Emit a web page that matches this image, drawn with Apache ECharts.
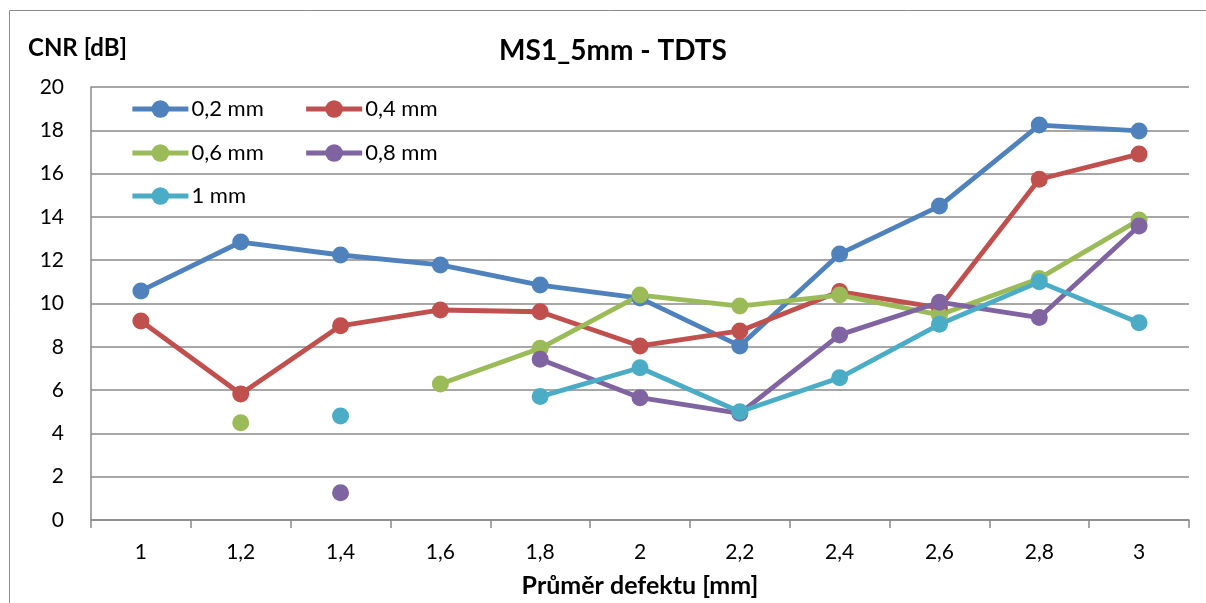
<!DOCTYPE html>
<html>
<head>
<meta charset="utf-8">
<script src="https://cdn.jsdelivr.net/npm/echarts@6/dist/echarts.min.js"></script>
<style>
  html, body { margin: 0; padding: 0; background: #fff; overflow: hidden; }
  #chart { width: 1206px; height: 603px; }
</style>
</head>
<body>
<div id="chart"></div>
<script>
// Defect diameters (mm) on the x axis
const categories = ['1', '1,2', '1,4', '1,6', '1,8', '2', '2,2', '2,4', '2,6', '2,8', '3'];

// CNR [dB] per hole depth; null = no measurement
const d02 = [10.58, 12.84, 12.24, 11.78, 10.85, 10.25, 8.04, 12.29, 14.5, 18.24, 17.97];
const d04 = [9.19, 5.82, 8.97, 9.70, 9.62, 8.04, 8.73, 10.55, 9.8, 15.74, 16.9];
const d06 = [null, 4.49, null, 6.28, 7.93, 10.39, 9.88, 10.39, 9.47, 11.16, 13.86];
const d08 = [null, null, 1.26, null, 7.42, 5.65, 4.93, 8.55, 10.06, 9.35, 13.58];
const d10 = [null, null, 4.80, null, 5.70, 7.03, 5.0, 6.57, 9.04, 11.0, 9.11];

const seriesNames = ['0,2 mm', '0,4 mm', '0,6 mm', '0,8 mm', '1 mm'];
const seriesData = [d02, d04, d06, d08, d10];
const colors = ['#4F81BD', '#C0504D', '#9BBB59', '#8064A2', '#4BACC6'];

const FONT = 'Lato, "Open Sans", sans-serif';
const GRID_COLOR = '#8a8a8a';
const LINE_W = 4.8;

const chart = echarts.init(document.getElementById('chart'), null, { renderer: 'canvas' });

// One legend per row so the two columns line up
function legendRow(names, top) {
  return {
    data: names,
    left: 130,
    top: top,
    padding: 0,
    orient: 'horizontal',
    itemWidth: 56,
    itemHeight: 22,
    itemGap: 40,
    lineStyle: { width: 'inherit' },
    textStyle: { fontFamily: FONT, fontSize: 22, color: '#000', padding: [0, 0, 0, -2] }
  };
}

chart.setOption({
  animation: false,
  color: colors,
  graphic: [
    {
      type: 'rect',
      shape: { x: 9.5, y: 10.5, width: 1300, height: 700 },
      style: { fill: 'none', stroke: '#8c8c8c', lineWidth: 1 },
      silent: true
    },
    {
      type: 'text',
      x: 613,
      y: 51,
      style: {
        text: 'MS1_5mm - TDTS', fontFamily: FONT, fontSize: 28, fontWeight: 'bold',
        fill: '#000', align: 'center', verticalAlign: 'middle'
      }
    },
    {
      type: 'text',
      x: 28,
      y: 48,
      style: {
        text: 'CNR [dB]', fontFamily: FONT, fontSize: 24, fontWeight: 'bold',
        fill: '#000', align: 'left', verticalAlign: 'middle'
      }
    }
  ],
  legend: [
    legendRow(['0,2 mm', '0,4 mm'], 98),
    legendRow(['0,6 mm', '0,8 mm'], 142),
    legendRow(['1 mm'], 185)
  ],
  grid: { left: 91, right: 17, top: 87, bottom: 83, outerBoundsMode: 'none' },
  xAxis: {
    type: 'category',
    data: categories,
    boundaryGap: true,
    name: 'Průměr defektu [mm]',
    nameLocation: 'middle',
    nameGap: 53,
    nameTextStyle: { fontFamily: FONT, fontSize: 25, fontWeight: 'bold', color: '#000' },
    axisLine: { lineStyle: { color: GRID_COLOR, width: 1.5 } },
    axisTick: { show: true, alignWithLabel: false, length: 8, lineStyle: { color: GRID_COLOR, width: 1.5 } },
    axisLabel: { fontFamily: FONT, fontSize: 21, color: '#000', margin: 22 },
    splitLine: { show: false }
  },
  yAxis: {
    type: 'value',
    min: 0,
    max: 20,
    interval: 2,
    axisLine: { show: true, lineStyle: { color: GRID_COLOR, width: 1.5 } },
    axisTick: { show: false },
    axisLabel: { fontFamily: FONT, fontSize: 21, color: '#000', margin: 27 },
    splitLine: { show: true, lineStyle: { color: GRID_COLOR, width: 1.5 } }
  },
  series: seriesNames.map((name, i) => ({
    name: name,
    type: 'line',
    data: seriesData[i],
    connectNulls: false,
    symbol: 'circle',
    symbolSize: 17,
    lineStyle: { width: LINE_W, color: colors[i] },
    itemStyle: { color: colors[i] },
    emphasis: { disabled: true }
  }))
});
</script>
</body>
</html>
